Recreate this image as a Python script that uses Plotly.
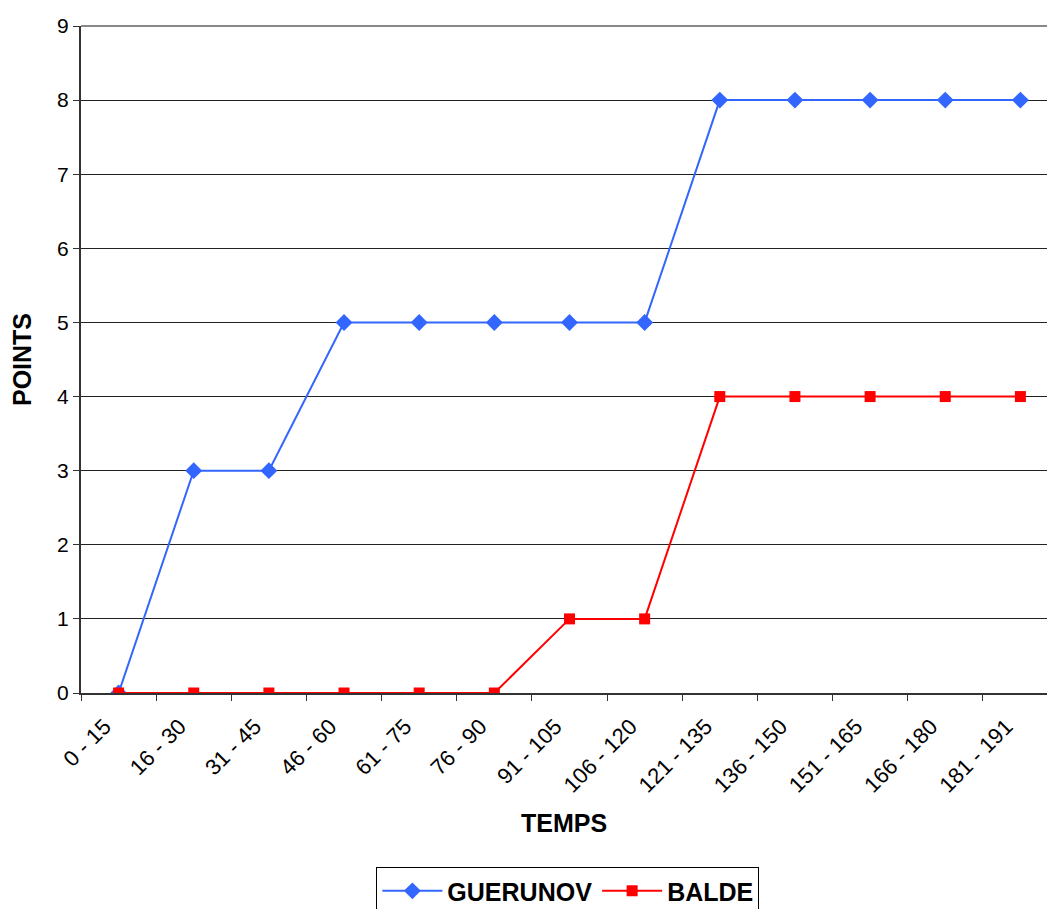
import plotly.graph_objects as go

categories = ["0 - 15", "16 - 30", "31 - 45", "46 - 60", "61 - 75", "76 - 90",
              "91 - 105", "106 - 120", "121 - 135", "136 - 150", "151 - 165",
              "166 - 180", "181 - 191"]
guerunov = [0, 3, 3, 5, 5, 5, 5, 5, 8, 8, 8, 8, 8]
balde = [0, 0, 0, 0, 0, 0, 1, 1, 4, 4, 4, 4, 4]

FONT = "Liberation Sans, Arial, sans-serif"

fig = go.Figure()
fig.add_trace(go.Scatter(
    x=categories, y=guerunov, name="GUERUNOV", mode="lines+markers",
    line=dict(color="#3366FF", width=2),
    marker=dict(symbol="diamond", size=13, color="#3366FF"),
))
fig.add_trace(go.Scatter(
    x=categories, y=balde, name="BALDE", mode="lines+markers",
    line=dict(color="#FF0000", width=2),
    marker=dict(symbol="square", size=11, color="#FF0000"),
))

fig.update_layout(
    width=1047, height=909,
    margin=dict(l=81, r=0, t=26, b=216, autoexpand=False),
    paper_bgcolor="white", plot_bgcolor="white",
    font=dict(family=FONT, size=22, color="black"),
    showlegend=True,
    legend=dict(
        orientation="h", x=0.504, xanchor="center", y=-0.261, yanchor="top",
        bordercolor="black", borderwidth=1,
        font=dict(family=FONT, size=25, color="black", weight="bold"),
        itemwidth=60, tracegroupgap=0,
    ),
)

fig.update_xaxes(
    type="category",
    range=[-0.5, 12.354],
    showgrid=False,
    showline=True, linecolor="#333333", linewidth=2,
    ticks="outside", ticklen=6, tickcolor="#333333", tickwidth=1,
    tickson="boundaries",
    tickangle=-45,
    ticklabelshift=-14,
    ticklabelstandoff=10,
    tickfont=dict(family=FONT, size=22, color="black"),
    title=dict(text="TEMPS", font=dict(family=FONT, size=25, weight="bold"), standoff=18),
    zeroline=False,
    automargin=False,
)
fig.update_yaxes(
    range=[0, 9], dtick=1,
    showgrid=True, gridcolor="#222222", gridwidth=1,
    showline=True, linecolor="#333333", linewidth=2,
    ticks="outside", ticklen=6, tickcolor="#333333",
    tickfont=dict(family=FONT, size=21, color="black"),
    title=dict(text="POINTS", font=dict(family=FONT, size=25, weight="bold"), standoff=18),
    zeroline=False,
    automargin=False,
)

fig.add_shape(type="line", xref="paper", yref="paper", x0=0, x1=1, y0=1, y1=1,
              line=dict(color="#888888", width=2))

fig.write_html("out.html")
